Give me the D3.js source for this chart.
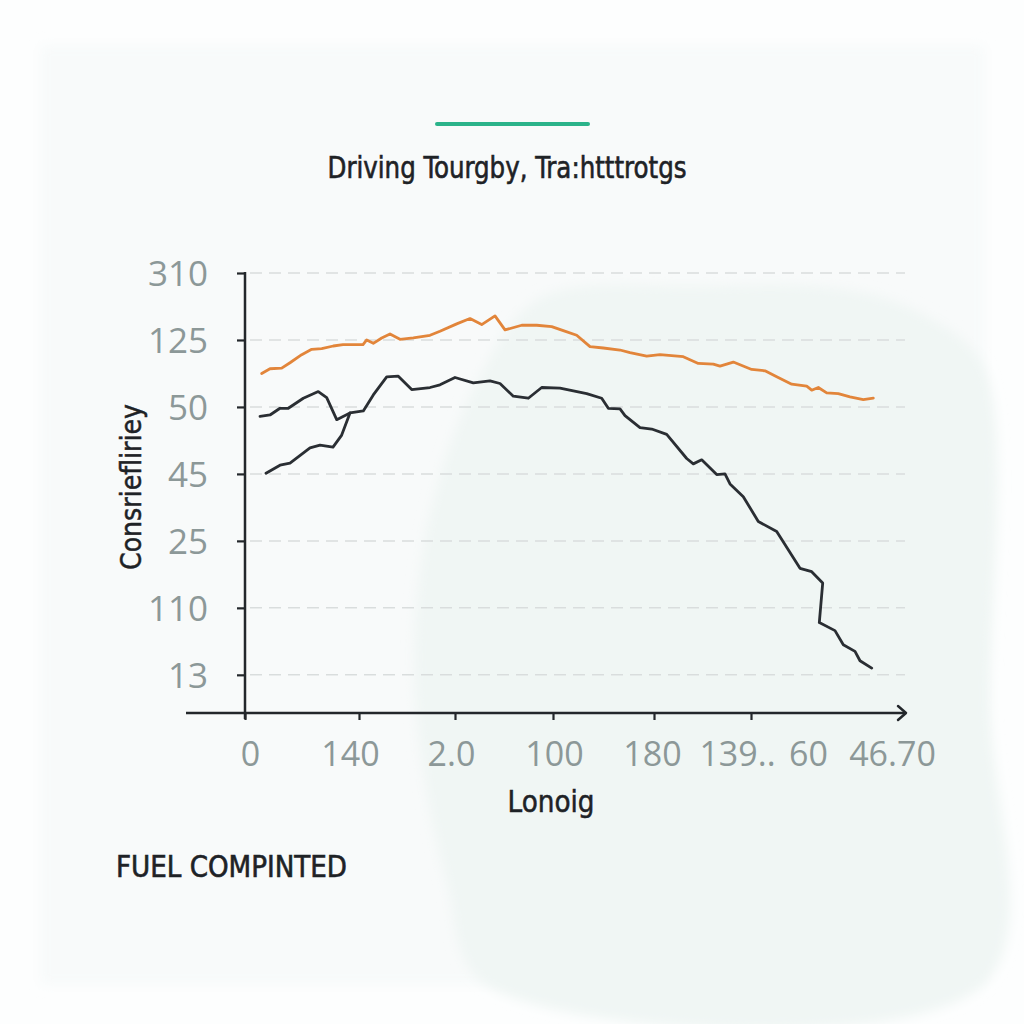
<!DOCTYPE html>
<html>
<head>
<meta charset="utf-8">
<script src="https://cdn.jsdelivr.net/npm/d3@7/dist/d3.min.js"></script>
<style>
  html, body { margin: 0; padding: 0; background: #fdfefe; }
  svg { display: block; }
</style>
</head>
<body>
<svg id="chart" width="1024" height="1024"></svg>
<script>
// ---------------- DATA ----------------
const titleText = "Driving Tourgby, Tra:htttrotgs";
const yAxisTitle = "Consriefliriey";
const xAxisTitle = "Lonoig";
const footnoteText = "FUEL COMPINTED";

// y tick labels (bottom -> top), placed at tick values yTickValues
const yTickLabels = ["13", "110", "25", "45", "50", "125", "310"];
const yTickValues = [0, 10, 20, 30, 40, 50, 60];

// x tick labels and the positions they sit at along the distance axis
const xTickLabels = ["0", "140", "2.0", "100", "180", "139..", "60", "46.70"];
const xTickValues = [0, 11.4, 21.0, 30.8, 40.9, 50.6, 56.1, 64.7];
const xTickMarked = 6; // only the first six labels carry a tick mark

// orange series
const orangeX = [1.67, 2.5, 3.67, 4.5, 5.67, 6.67, 7.67, 8.83, 9.8, 11.8, 12.17, 12.83, 13.67, 14.5, 15.5, 16.83, 18.5, 19.5, 21.17, 22.5, 23.67, 25.0, 26.0, 27.67, 29.17, 30.67, 31.83, 33.17, 34.5, 35.83, 37.5, 38.5, 40.17, 41.5, 43.83, 45.33, 46.83, 47.5, 48.83, 50.67, 52.0, 53.17, 54.67, 56.17, 56.67, 57.33, 58.17, 59.33, 60.5, 61.83, 62.83];
const orangeY = [45.0, 45.7, 45.8, 46.6, 47.8, 48.6, 48.7, 49.1, 49.3, 49.3, 50.0, 49.5, 50.3, 50.9, 50.1, 50.3, 50.7, 51.3, 52.4, 53.2, 52.3, 53.6, 51.5, 52.2, 52.2, 52.0, 51.4, 50.7, 49.0, 48.8, 48.5, 48.1, 47.6, 47.8, 47.5, 46.5, 46.4, 46.1, 46.7, 45.6, 45.4, 44.5, 43.4, 43.1, 42.5, 42.9, 42.1, 42.0, 41.5, 41.1, 41.3];

// dark series A (short)
const darkAX = [1.5, 2.5, 3.5, 4.33, 5.83, 7.33, 8.17, 9.17, 10.5];
const darkAY = [38.6, 38.8, 39.8, 39.8, 41.3, 42.3, 41.4, 38.1, 39.1];

// dark series B (long)
const darkBX = [2.1, 3.5, 4.5, 6.5, 7.5, 8.8, 9.67, 10.5, 11.83, 12.83, 14.17, 15.33, 16.67, 18.5, 19.5, 21.0, 22.83, 24.5, 25.5, 26.83, 28.33, 29.67, 31.5, 34.17, 35.67, 36.33, 37.5, 38.0, 39.5, 40.67, 42.17, 44.17, 44.83, 45.67, 47.17, 48.0, 48.5, 49.83, 51.33, 53.17, 55.5, 56.67, 57.77, 57.43, 59.0, 59.83, 61.0, 61.5, 62.67];
const darkBY = [30.1, 31.3, 31.6, 33.9, 34.3, 34.0, 35.8, 39.1, 39.4, 41.8, 44.5, 44.6, 42.6, 42.9, 43.3, 44.4, 43.6, 43.9, 43.5, 41.6, 41.3, 42.9, 42.8, 42.0, 41.3, 39.8, 39.7, 38.7, 36.9, 36.7, 35.9, 32.3, 31.5, 32.1, 29.9, 30.0, 28.5, 26.6, 22.9, 21.4, 15.9, 15.4, 13.7, 7.8, 6.6, 4.5, 3.5, 2.1, 1.0];

// ---------------- DRAW ----------------
const svg = d3.select("#chart");
const W = 1024, H = 1024;
const condensed = "'Liberation Sans Narrow','DejaVu Sans Condensed','DejaVu Sans',sans-serif";
const numFont = "'Open Sans','Noto Sans',sans-serif";

const x = d3.scaleLinear().domain([0, 66]).range([245, 905]);
const y = d3.scaleLinear().domain([-5.7, 60]).range([713, 273]);

// background panel
svg.append("rect").attr("x", 0).attr("y", 0).attr("width", W).attr("height", H).attr("fill", "#fdfefe");
const defs = svg.append("defs");
defs.append("filter").attr("id", "soft").append("feGaussianBlur").attr("stdDeviation", 6);
svg.append("rect").attr("x", 40).attr("y", 45).attr("width", 945).attr("height", 940)
  .attr("fill", "#f8fafa").attr("filter", "url(#soft)");

// pale mint blob (decoration)
const blobPts = [[540,298],[700,286],[850,290],[930,318],[984,368],[990,700],[984,984],[485,984],[446,880],[418,730],[416,610],[436,490],[478,380]];
svg.append("path")
  .attr("d", d3.line().curve(d3.curveCatmullRomClosed)(blobPts))
  .attr("fill", "#f0f6f4").attr("filter", "url(#soft)");

// green accent bar
svg.append("line").attr("x1", 437).attr("x2", 588).attr("y1", 124).attr("y2", 124)
  .attr("stroke", "#2bb38a").attr("stroke-width", 4).attr("stroke-linecap", "round");

// title
svg.append("text").attr("x", 507).attr("y", 178).attr("text-anchor", "middle")
  .attr("font-family", condensed)
  .attr("font-size", 30).attr("fill", "#1e2226").attr("stroke", "#1e2226").attr("stroke-width", 0.6)
  .attr("textLength", 359).attr("lengthAdjust", "spacingAndGlyphs")
  .text(titleText);

// gridlines
svg.append("g").selectAll("line").data(yTickValues).join("line")
  .attr("x1", 250).attr("x2", 905)
  .attr("y1", d => y(d)).attr("y2", d => y(d))
  .attr("stroke", "#d9dddd").attr("stroke-width", 1.5).attr("stroke-dasharray", "12,7");

// y axis
const yAxis = d3.axisLeft(y).tickValues(yTickValues).tickSize(8).tickPadding(30)
  .tickFormat((d, i) => yTickLabels[i]);
const gy = svg.append("g").attr("transform", "translate(245,0)").call(yAxis);
gy.select(".domain").remove();
gy.selectAll(".tick line").attr("stroke", "#23272b").attr("stroke-width", 2.2);
gy.selectAll(".tick text").attr("font-family", numFont)
  .attr("font-size", 35).attr("fill", "#8c9898").attr("dy", "0.36em").attr("x", -37);
svg.append("line").attr("x1", 245).attr("x2", 245).attr("y1", 272).attr("y2", 719)
  .attr("stroke", "#23272b").attr("stroke-width", 2.5);

// x axis
const xAxis = d3.axisBottom(x).tickValues(xTickValues).tickSize(7).tickPadding(22)
  .tickFormat((d, i) => xTickLabels[i]);
const gx = svg.append("g").attr("transform", "translate(0,713)").call(xAxis);
gx.select(".domain").remove();
gx.selectAll(".tick line").attr("stroke", "#23272b").attr("stroke-width", 2.2)
  .attr("display", (d, i) => i < xTickMarked ? null : "none");
gx.selectAll(".tick text").attr("font-family", numFont)
  .attr("font-size", 34).attr("fill", "#8c9898").attr("dy", "0.72em")
  .attr("dx", (d, i) => [5, -9, -4, 1, -2, -14, 2, 0][i]);
svg.append("line").attr("x1", 186).attr("x2", 905).attr("y1", 713).attr("y2", 713)
  .attr("stroke", "#23272b").attr("stroke-width", 2.5);
svg.append("path").attr("d", "M898,706 L906,713 L898,720")
  .attr("fill", "none").attr("stroke", "#23272b").attr("stroke-width", 2.5)
  .attr("stroke-linecap", "round").attr("stroke-linejoin", "round");

// axis titles
svg.append("text").attr("transform", "translate(141,487) rotate(-90)")
  .attr("text-anchor", "middle")
  .attr("font-family", condensed)
  .attr("font-size", 28).attr("fill", "#1e2226").attr("stroke", "#1e2226").attr("stroke-width", 0.5)
  .attr("textLength", 166).attr("lengthAdjust", "spacingAndGlyphs")
  .text(yAxisTitle);
svg.append("text").attr("x", 551).attr("y", 812).attr("text-anchor", "middle")
  .attr("font-family", condensed)
  .attr("font-size", 30).attr("fill", "#1e2226").attr("stroke", "#1e2226").attr("stroke-width", 0.5)
  .attr("textLength", 87).attr("lengthAdjust", "spacingAndGlyphs")
  .text(xAxisTitle);

// footnote
svg.append("text").attr("x", 116).attr("y", 877)
  .attr("font-family", condensed)
  .attr("font-size", 30).attr("fill", "#1e2226").attr("stroke", "#1e2226").attr("stroke-width", 0.6)
  .attr("textLength", 231).attr("lengthAdjust", "spacingAndGlyphs")
  .text(footnoteText);

// series lines
const line = d3.line().x(d => x(d[0])).y(d => y(d[1]));
const seriesList = [
  { xs: orangeX, ys: orangeY, color: "#e2853a" },
  { xs: darkAX, ys: darkAY, color: "#2a2e33" },
  { xs: darkBX, ys: darkBY, color: "#2a2e33" }
];
svg.append("g").selectAll("path").data(seriesList).join("path")
  .attr("d", s => line(d3.zip(s.xs, s.ys)))
  .attr("fill", "none").attr("stroke", s => s.color).attr("stroke-width", 2.8)
  .attr("stroke-linejoin", "round").attr("stroke-linecap", "round");
</script>
</body>
</html>
